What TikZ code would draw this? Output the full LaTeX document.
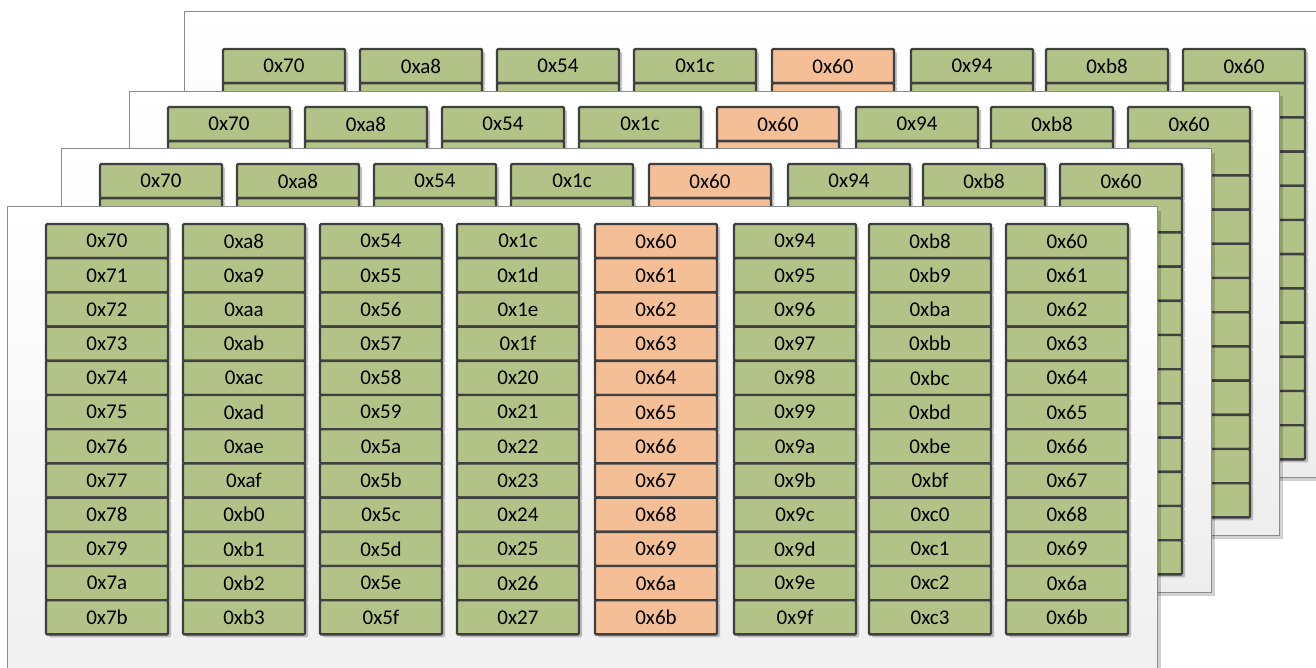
\documentclass[tikz,border=0pt]{standalone}
\usepackage{fontspec}
\setmainfont{Carlito}
\usepackage{tikz}
\usetikzlibrary{shadows}

\definecolor{cellgreen}{HTML}{B3C387}
\definecolor{cellorange}{HTML}{F4BE96}
\definecolor{celledge}{HTML}{404040}
\definecolor{paneledge}{HTML}{8C8C8C}

\tikzset{
  cell/.style = {draw = celledge, line width = 2.4pt, rounded corners = 1.2pt,
    minimum width = 122pt, minimum height = 34.2pt, inner sep = 0pt,
    font = \fontsize{21}{25}\selectfont,
    drop shadow = {shadow xshift = 3pt, shadow yshift = -3pt, opacity = 0.22, fill = black}},
  panel/.style = {draw = paneledge, line width = 1pt, top color = white, bottom color = black!7,
    drop shadow = {shadow xshift = 4pt, shadow yshift = -4pt, opacity = 0.18, fill = black}}
}

\begin{document}
\begin{tikzpicture}[x = 1pt, y = -1pt]

\useasboundingbox (0,0) rectangle (1316,668);
\clip (0,0) rectangle (1316,668);


%back panels, only their top row is labelled
\foreach \px/\py/\pn/\mt in {223/49/p4/37, 168/107/p3/15, 100/164/p2/15} {
\begin{scope}[shift = {(\px,\py)}]
\draw [panel] (-39,-\mt) rectangle (1111,428); % panel sheet
\foreach \cx/\tint/\lbl [count=\c] in {61/cellgreen/0x70, 198/cellgreen/0xa8, 335/cellgreen/0x54, 472/cellgreen/0x1c,
    610/cellorange/0x60, 749/cellgreen/0x94, 884/cellgreen/0xb8, 1021/cellgreen/0x60} {
  \node [cell, fill = \tint] (\pn-c\c-r1) at (\cx,17.1) {\lbl}; % top cell
  \foreach \r in {2,...,12}
    \node [cell, fill = \tint] (\pn-c\c-r\r) at (\cx,{17.1+34.2*(\r-1)}) {};
}
\end{scope}
}


%front panel with all cells labelled
\begin{scope}[shift = {(46,224)}]
\draw [panel] (-39,-17) rectangle (1111,520); % panel sheet

\foreach \lbl [count=\r] in {0x70,0x71,0x72,0x73,0x74,0x75,0x76,0x77,0x78,0x79,0x7a,0x7b}
  \node [cell, fill = cellgreen] (f-c1-r\r) at (61,{17.1+34.2*(\r-1)}) {\lbl}; % column 1
\foreach \lbl [count=\r] in {0xa8,0xa9,0xaa,0xab,0xac,0xad,0xae,0xaf,0xb0,0xb1,0xb2,0xb3}
  \node [cell, fill = cellgreen] (f-c2-r\r) at (198,{17.1+34.2*(\r-1)}) {\lbl}; % column 2
\foreach \lbl [count=\r] in {0x54,0x55,0x56,0x57,0x58,0x59,0x5a,0x5b,0x5c,0x5d,0x5e,0x5f}
  \node [cell, fill = cellgreen] (f-c3-r\r) at (335,{17.1+34.2*(\r-1)}) {\lbl}; % column 3
\foreach \lbl [count=\r] in {0x1c,0x1d,0x1e,0x1f,0x20,0x21,0x22,0x23,0x24,0x25,0x26,0x27}
  \node [cell, fill = cellgreen] (f-c4-r\r) at (472,{17.1+34.2*(\r-1)}) {\lbl}; % column 4
\foreach \lbl [count=\r] in {0x60,0x61,0x62,0x63,0x64,0x65,0x66,0x67,0x68,0x69,0x6a,0x6b}
  \node [cell, fill = cellorange] (f-c5-r\r) at (610,{17.1+34.2*(\r-1)}) {\lbl}; % column 5 (orange)
\foreach \lbl [count=\r] in {0x94,0x95,0x96,0x97,0x98,0x99,0x9a,0x9b,0x9c,0x9d,0x9e,0x9f}
  \node [cell, fill = cellgreen] (f-c6-r\r) at (749,{17.1+34.2*(\r-1)}) {\lbl}; % column 6
\foreach \lbl [count=\r] in {0xb8,0xb9,0xba,0xbb,0xbc,0xbd,0xbe,0xbf,0xc0,0xc1,0xc2,0xc3}
  \node [cell, fill = cellgreen] (f-c7-r\r) at (884,{17.1+34.2*(\r-1)}) {\lbl}; % column 7
\foreach \lbl [count=\r] in {0x60,0x61,0x62,0x63,0x64,0x65,0x66,0x67,0x68,0x69,0x6a,0x6b}
  \node [cell, fill = cellgreen] (f-c8-r\r) at (1021,{17.1+34.2*(\r-1)}) {\lbl}; % column 8
\end{scope}


\end{tikzpicture}
\end{document}
